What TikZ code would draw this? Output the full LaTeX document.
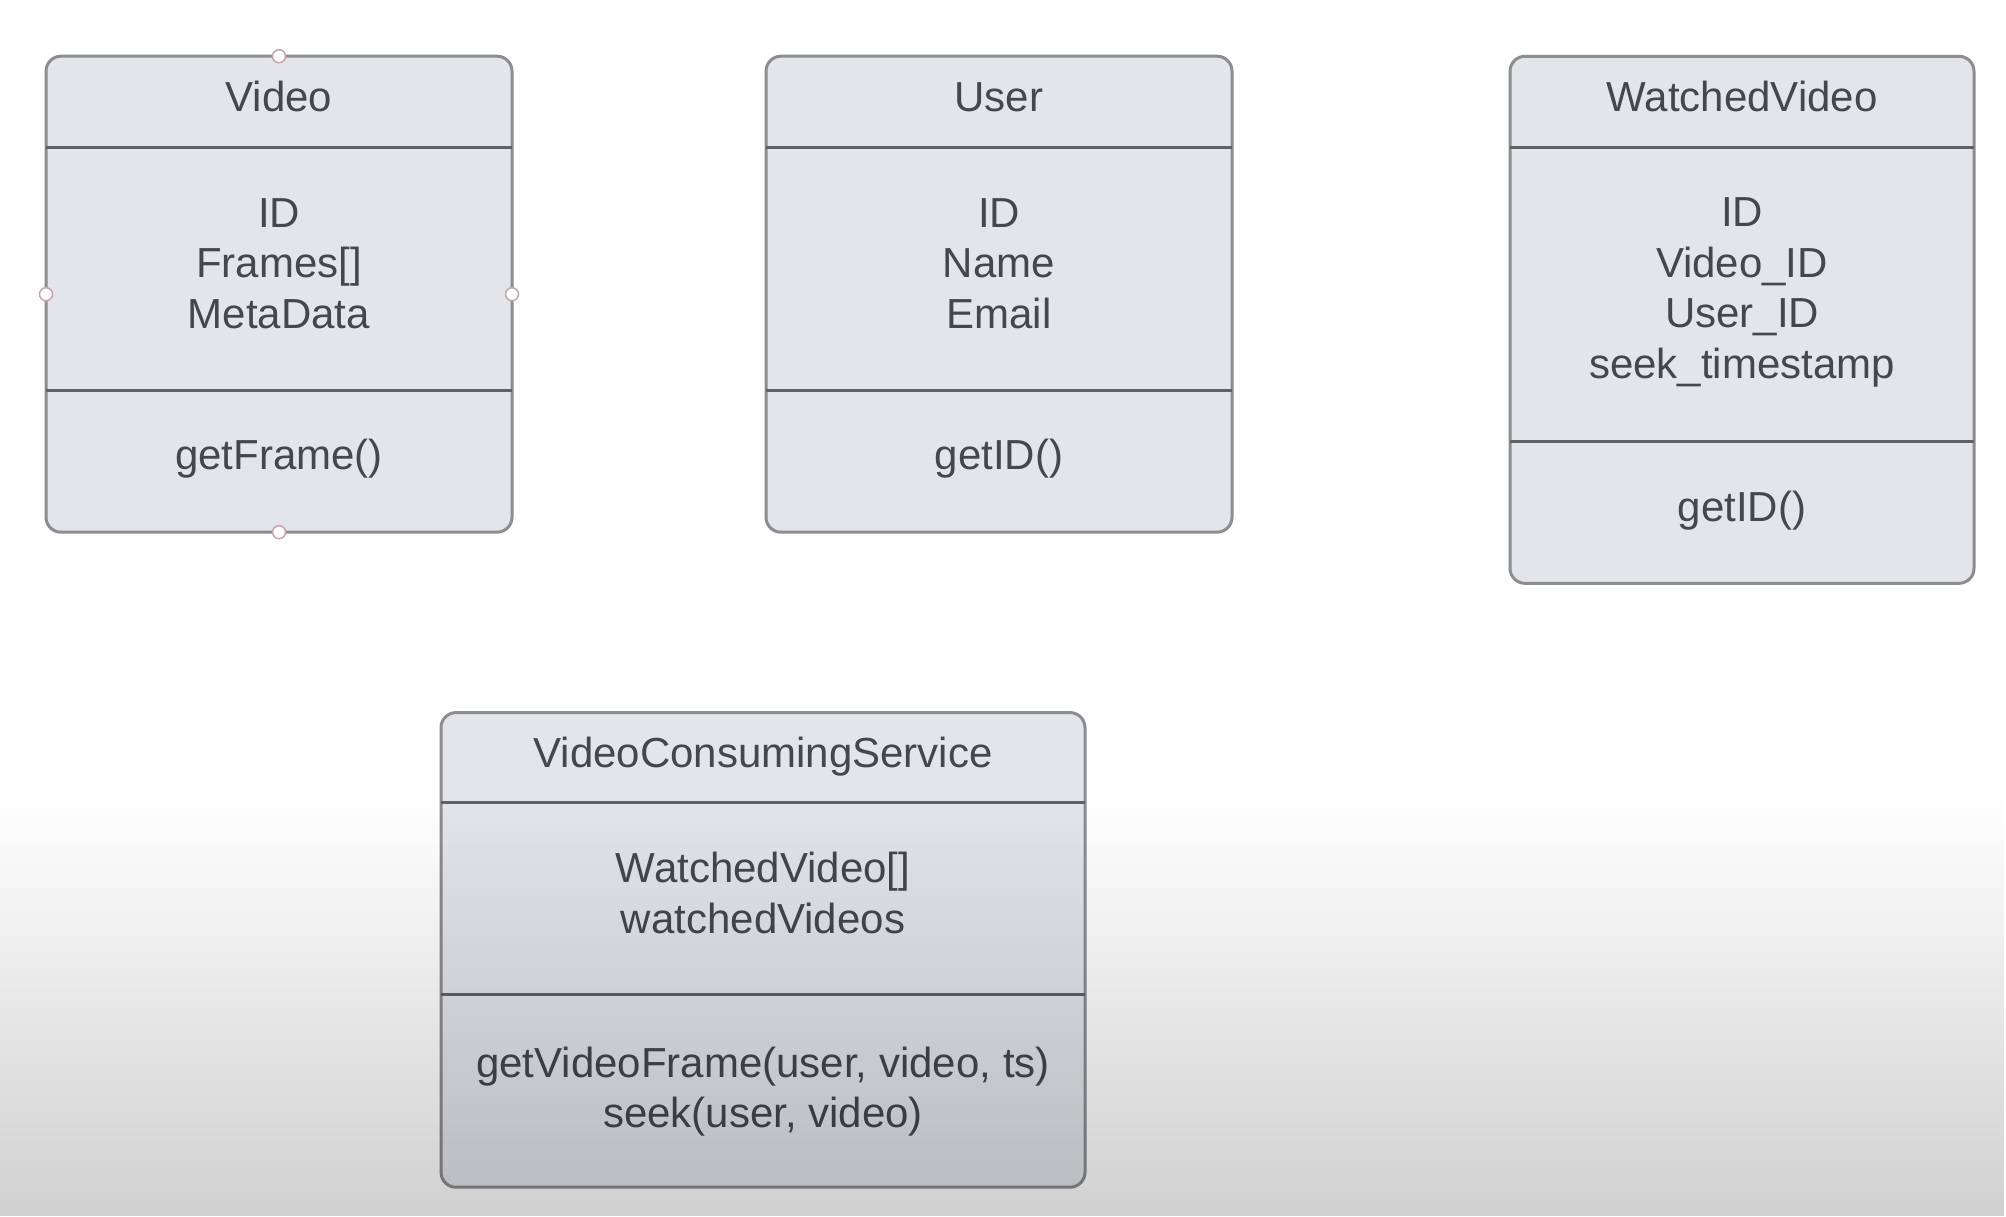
\documentclass[tikz,border=0pt]{standalone}
\usepackage{fontspec}
\setmainfont{Liberation Sans}
\usetikzlibrary{fadings}
\definecolor{boxfill}{HTML}{E3E5EA}
\definecolor{boxline}{HTML}{8C8D90}
\definecolor{divline}{HTML}{606266}
\definecolor{txt}{HTML}{45474B}
\definecolor{handlecol}{HTML}{C9A5A8}
\tikzfading[name=fadedown, top color=transparent!100, bottom color=transparent!0]
\begin{document}
\begin{tikzpicture}[x=1pt,y=-1pt,
  classbox/.style={draw=boxline, line width=3pt, fill=boxfill, rounded corners=15pt, outer sep=0pt, inner sep=0pt},
  divider/.style={draw=divline, line width=3pt},
  lbl/.style={font=\fontsize{42}{50}\selectfont, text=txt, anchor=base, inner sep=0pt},
  handlept/.style={circle, draw=handlecol, fill=white, line width=1.5pt, minimum size=13pt, inner sep=0pt}]
\fill[white] (0,0) rectangle (2006,1216);
\useasboundingbox (0,0) rectangle (2006,1216);

% ---------- Video ----------
\node[classbox, minimum width=466pt, minimum height=476pt] (video) at (279,294.2) {};
\draw[divider] (video.west |- 0,147) -- (video.east |- 0,147);
\draw[divider] (video.west |- 0,390) -- (video.east |- 0,390);
\node[lbl] (videoT) at (279,111) {Video};
\node[lbl] (videoA1) at (279,227) {ID};
\node[lbl] (videoA2) at (279,277.5) {Frames[]};
\node[lbl] (videoA3) at (279,328) {MetaData};
\node[lbl] (videoM1) at (279,469) {getFrame()};
\node[handlept] (hN) at (video.north) {};
\node[handlept] (hS) at (video.south) {};
\node[handlept] (hW) at (video.west) {};
\node[handlept] (hE) at (video.east) {};

% ---------- User ----------
\node[classbox, minimum width=466pt, minimum height=476pt] (user) at (999,294.2) {};
\draw[divider] (user.west |- 0,147) -- (user.east |- 0,147);
\draw[divider] (user.west |- 0,390) -- (user.east |- 0,390);
\node[lbl] (userT) at (999,111) {User};
\node[lbl] (userA1) at (999,227) {ID};
\node[lbl] (userA2) at (999,277.5) {Name};
\node[lbl] (userA3) at (999,328) {Email};
\node[lbl] (userM1) at (999,469) {getID()};

% ---------- WatchedVideo ----------
\node[classbox, minimum width=464pt, minimum height=527pt] (wv) at (1742,319.8) {};
\draw[divider] (wv.west |- 0,147) -- (wv.east |- 0,147);
\draw[divider] (wv.west |- 0,441) -- (wv.east |- 0,441);
\node[lbl] (wvT) at (1742,111) {WatchedVideo};
\node[lbl] (wvA1) at (1742,226.5) {ID};
\node[lbl] (wvA2) at (1742,277) {Video\_ID};
\node[lbl] (wvA3) at (1742,327.5) {User\_ID};
\node[lbl] (wvA4) at (1742,378) {seek\_timestamp};
\node[lbl] (wvM1) at (1742,521) {getID()};

% ---------- VideoConsumingService ----------
\node[classbox, minimum width=644pt, minimum height=474.6pt] (vcs) at (763,949.9) {};
\draw[divider] (vcs.west |- 0,802) -- (vcs.east |- 0,802);
\draw[divider] (vcs.west |- 0,994) -- (vcs.east |- 0,994);
\node[lbl] (vcsT) at (763,767) {VideoConsumingService};
\node[lbl] (vcsA1) at (763,882) {WatchedVideo[]};
\node[lbl] (vcsA2) at (763,933) {watchedVideos};
\node[lbl] (vcsM1) at (763,1077) {getVideoFrame(user, video, ts)};
\node[lbl] (vcsM2) at (763,1127) {seek(user, video)};

% ---------- bottom darkening gradient ----------
\fill[black, fill opacity=0.185, path fading=fadedown] (0,795) rectangle (2006,1216);
\end{tikzpicture}
\end{document}
